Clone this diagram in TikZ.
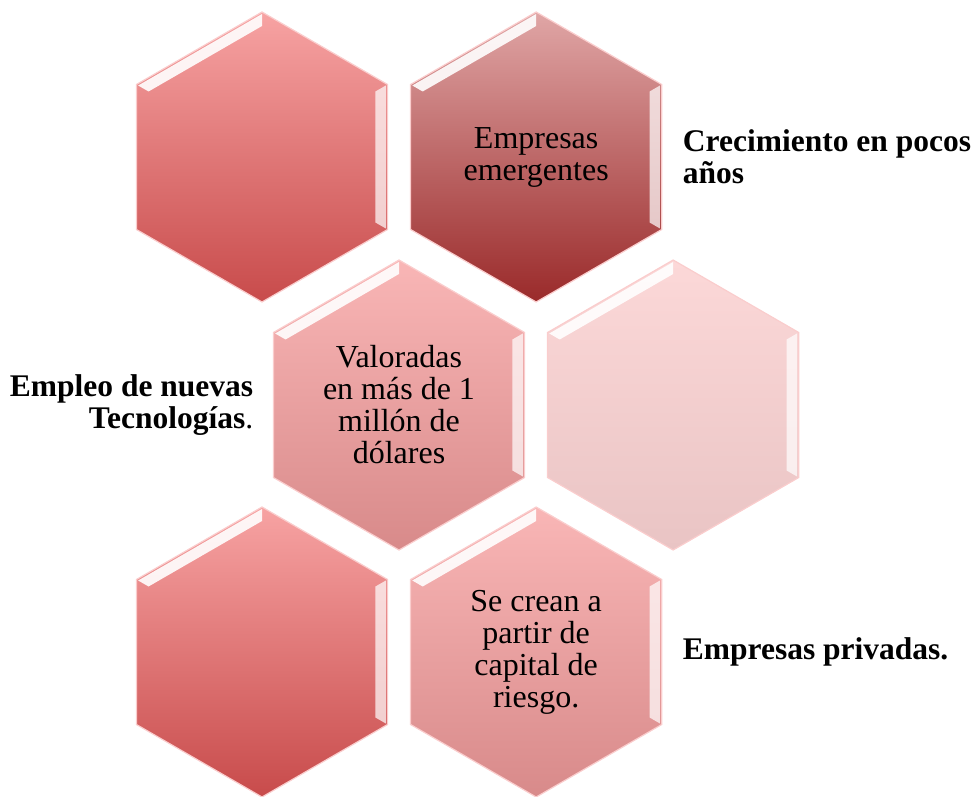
\documentclass[tikz,border=0pt]{standalone}
\usepackage{fontspec}
\setmainfont{Liberation Serif}
\usepackage{tikz}
\usetikzlibrary{shapes,positioning,calc}
\definecolor{roseTop}{RGB}{247,163,163}
\definecolor{roseBot}{RGB}{200,75,75}
\definecolor{wineTop}{RGB}{224,166,166}
\definecolor{wineBot}{RGB}{154,42,42}
\definecolor{blushTop}{RGB}{249,182,182}
\definecolor{blushBot}{RGB}{216,138,138}
\definecolor{paleTop}{RGB}{252,216,216}
\definecolor{paleBot}{RGB}{233,196,196}
\definecolor{hexedge}{RGB}{250,205,205}
\tikzstyle{hexcell} = [regular polygon, regular polygon sides=6, shape border rotate=30,
    minimum size=290pt, inner sep=0pt, outer sep=0pt, draw=hexedge, line width=1.2pt,
    align=center, font=\fontsize{32}{32}\selectfont]
\tikzstyle{tag} = [font=\fontsize{31.5}{32}\selectfont\bfseries, inner sep=0pt]
\newcommand{\hexbevel}[1]{%
  \fill[white, opacity=0.9] ($(#1)+(150:143pt)$) -- ($(#1)+(90:143pt)$)
    -- ($(#1)+(90:131pt)$) -- ($(#1)+(150:131pt)$) -- cycle;
  \fill[white, opacity=0.7] ($(#1)+(30:143pt)$) -- ($(#1)+(-30:143pt)$)
    -- ($(#1)+(-30:131pt)$) -- ($(#1)+(30:131pt)$) -- cycle;}

\begin{document}
\begin{tikzpicture}[x=1pt, y=1pt]
\useasboundingbox (0,0) rectangle (974,796);

\node [hexcell, top color=roseTop, bottom color=roseBot] (h1) at (262,639) {};
\node [hexcell, top color=wineTop, bottom color=wineBot, right=23pt of h1] (h2) {Empresas\\emergentes};
\node [hexcell, top color=blushTop, bottom color=blushBot] (h3) at (399,391) {Valoradas\\en más de 1\\millón de\\dólares};
\node [hexcell, top color=paleTop, bottom color=paleBot, right=23pt of h3] (h4) {};
\node [hexcell, top color=roseTop, bottom color=roseBot] (h5) at (262,144) {};
\node [hexcell, top color=blushTop, bottom color=blushBot, right=23pt of h5] (h6) {Se crean a\\partir de\\capital de\\riesgo.};

\foreach \h in {h1,h2,h3,h4,h5,h6} {\hexbevel{\h}}

\node [tag, align=left, right=21pt of h2] (growth) {Crecimiento en pocos\\años};
\node [tag, align=right, left=20pt of h3] (tech) {Empleo de nuevas\\Tecnologías\textmd{.}};
\node [tag, align=left, right=21pt of h6] (private) {Empresas privadas.};
\end{tikzpicture}
\end{document}
